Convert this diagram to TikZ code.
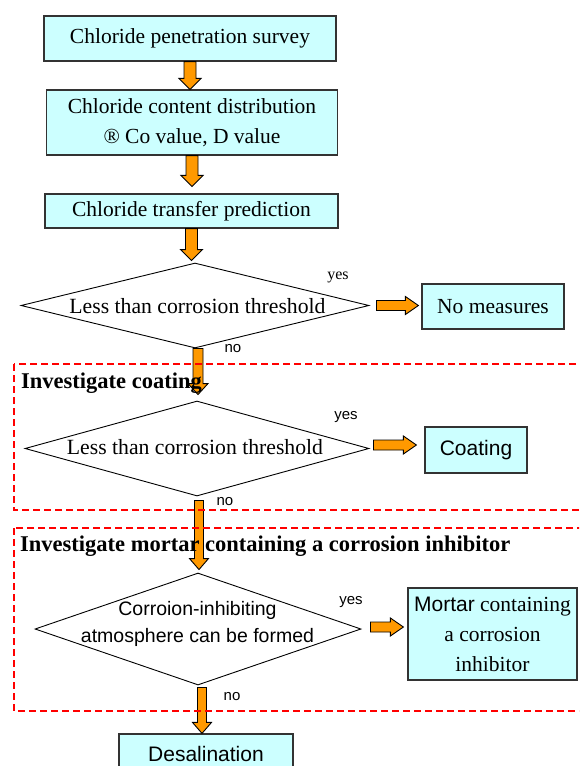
\documentclass[tikz,border=0pt]{standalone}
\usepackage{fontspec}
\setmainfont{Liberation Serif}
\setsansfont{Liberation Sans}
\usetikzlibrary{shapes.geometric,calc}

\definecolor{boxcyan}{HTML}{CCFFFF}
\definecolor{arroworange}{HTML}{FF9900}

\tikzset{
  box/.style={draw=black!80, line width=1.2pt, fill=boxcyan, inner sep=0pt, align=center,
    font=\fontsize{21.5}{30}\selectfont},
  sansbox/.style={box, font=\sffamily\fontsize{21}{26}\selectfont},
  dia/.style={draw, diamond, line width=0.9pt, inner sep=0pt},
  diatext/.style={font=\fontsize{21.7}{26}\selectfont},
  blk/.style={draw=black, line width=0.9pt, fill=arroworange},
  lbl/.style={font=\sffamily\fontsize{15}{18}\selectfont},
  zone/.style={draw=red, line width=2pt, dash pattern=on 7pt off 4pt},
  zonetitle/.style={font=\bfseries\fontsize{22.5}{27}\selectfont, anchor=west, inner sep=0pt}
}

% block arrows: [shaft half width]{from}{to}
\newcommand{\blkdown}[3][6]{%
  \draw[blk] let \p1=(#2), \p2=(#3) in
    (\x1-#1pt,\y1) -- (\x1-#1pt,\y2+11pt) -- (\x1-#1pt-5pt,\y2+11pt) -- (\x1,\y2)
    -- (\x1+#1pt+5pt,\y2+11pt) -- (\x1+#1pt,\y2+11pt) -- (\x1+#1pt,\y1) -- cycle;}
\newcommand{\blkright}[3][5]{%
  \draw[blk] let \p1=(#2), \p2=(#3) in
    (\x1,\y1+#1pt) -- (\x2-13pt,\y1+#1pt) -- (\x2-13pt,\y1+#1pt+4pt) -- (\x2,\y1)
    -- (\x2-13pt,\y1-#1pt-4pt) -- (\x2-13pt,\y1-#1pt) -- (\x1,\y1-#1pt) -- cycle;}

\begin{document}
\begin{tikzpicture}[x=1pt,y=1pt]
  \clip (0,0) rectangle (579,-766);

  % Survey and prediction
  \node[box, minimum width=292pt, minimum height=45pt] (survey) at (190,-38.5) {Chloride penetration survey};
  \node[box, minimum width=291pt, minimum height=65pt] (dist) at (192,-122.5) {Chloride content distribution\\® Co value, D value};
  \node[box, minimum width=293pt, minimum height=34pt] (pred) at (191.5,-211) {Chloride transfer prediction};

  % First check
  \node[dia, minimum width=348pt, minimum height=85pt] (d1) at (195,-305.5) {};
  \node[diatext] (d1text) at (197.5,-306) {Less than corrosion threshold};
  \node[box, minimum width=142pt, minimum height=45pt] (nomeas) at (493,-306.5) {No measures};

  % Coating check
  \node[dia, minimum width=344pt, minimum height=95pt] (d2) at (197,-448.5) {};
  \node[diatext] (d2text) at (195,-447) {Less than corrosion threshold};
  \node[sansbox, minimum width=102pt, minimum height=46pt] (coat) at (476,-450) {Coating};

  % Inhibitor check
  \node[dia, minimum width=326pt, minimum height=112pt] (d3) at (198,-629) {};
  \node[font=\sffamily\fontsize{19.5}{27}\selectfont, align=center] (d3text) at (197.5,-623.5)
    {Corroion-inhibiting\\atmosphere can be formed};
  \node[box, minimum width=169pt, minimum height=92pt] (mortar) at (492.5,-634)
    {{\sffamily\fontsize{21}{30}\selectfont Mortar} containing\\a corrosion\\inhibitor};

  \node[sansbox, minimum width=174pt, minimum height=40pt] (desal) at (206,-754) {Desalination};

  % Arrows
  \blkdown{survey.south}{dist.north}
  \blkdown{dist.south}{$(pred.north)+(0,7)$}
  \blkdown{pred.south}{$(d1.north)+(0,2)$}
  \blkdown[5]{$(d1.south)+(3,0)$}{$(d2.north)+(0,6)$}
  \blkdown[4.5]{$(d2.south)+(2,-4)$}{$(d3.north)+(0,3)$}
  \blkdown[4.5]{$(d3.south)+(4,-2)$}{desal.north}
  \blkright{$(d1.east)+(7,0)$}{$(nomeas.west)+(-3,0)$}
  \blkright{$(d2.east)+(4,3.5)$}{$(coat.west)+(-8,0)$}
  \blkright{$(d3.east)+(9,2)$}{$(mortar.west)+(-4,0)$}

  % yes / no
  \node[font=\fontsize{16}{18}\selectfont] (yes1) at (338,-277) {yes};
  \node[lbl] (no1) at (233,-349) {no};
  \node[lbl] (yes2) at (346,-417) {yes};
  \node[lbl] (no2) at (225,-502) {no};
  \node[lbl] (yes3) at (351,-602) {yes};
  \node[lbl] (no3) at (232,-697) {no};

  % Investigation zones
  \draw[zone] (14,-364) rectangle (600,-510);
  \draw[zone] (14,-528) rectangle (600,-711);
  \node[zonetitle] (tcoat) at (21,-383) {Investigate coating};
  \node[zonetitle] (tmortar) at (20,-546) {Investigate mortar containing a corrosion inhibitor};
\end{tikzpicture}
\end{document}
